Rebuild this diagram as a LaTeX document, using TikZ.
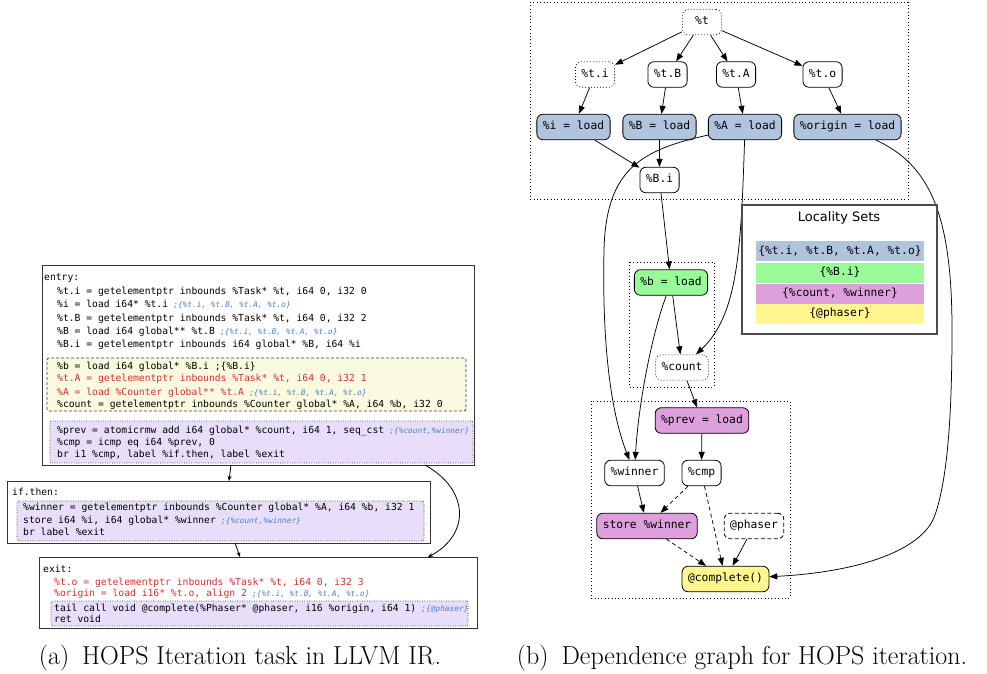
\documentclass[tikz,border=0pt]{standalone}
\usepackage{fontspec}
\newfontfamily\cmono{DejaVu Sans Mono}
\newfontfamily\cmonoit{DejaVu Sans Mono}[FakeSlant=0.2]
\newfontfamily\lsans{DejaVu Sans}
\usetikzlibrary{arrows.meta}
\definecolor{gblue}{RGB}{176,196,222}
\definecolor{ggreen}{RGB}{152,251,152}
\definecolor{gpink}{RGB}{221,160,221}
\definecolor{gyellow}{RGB}{255,246,143}
\definecolor{cyel}{RGB}{250,250,224}
\definecolor{cpurp}{RGB}{232,222,250}
\definecolor{cred}{RGB}{214,48,48}
\definecolor{cblue}{RGB}{74,128,196}
\newcommand\grfont{\cmono\fontsize{11.3}{13}\selectfont}
\newcommand\cdfont{\cmono\fontsize{9.7}{12}\selectfont}
\newcommand\cmfont{\cmonoit\fontsize{7.8}{9}\selectfont}
\newcommand\cmnt[1]{{\cmfont\color{cblue}\ #1}}
\newcommand\setone{\cmnt{;\{\%t.i, \%t.B, \%t.A, \%t.o\}}}
\newcommand\settwo{\cmnt{;\{\%count,\%winner\}}}
\tikzset{
  gnode/.style={draw, rounded corners=6pt, font=\grfont, minimum width=39pt,
    minimum height=25.5pt, inner xsep=6pt, inner ysep=0pt, text height=8.2pt,
    text depth=2.3pt, line width=0.8pt},
  dotnode/.style={gnode, dash pattern=on 0.8pt off 2.2pt},
  dashnode/.style={gnode, dash pattern=on 4pt off 2.5pt},
  arr/.style={-{Triangle[length=8pt,width=6pt]}, line width=0.75pt},
  darr/.style={arr, dash pattern=on 4pt off 3pt},
  cluster/.style={draw, line width=0.8pt, dash pattern=on 0.8pt off 2.6pt},
  code/.style={anchor=base west, inner sep=0pt, font=\cdfont},
  redcode/.style={code, text=cred},
  blockbox/.style={draw=black!80, line width=1pt, anchor=north west, inner sep=0pt, outer sep=0pt, fill=white},
  yelbox/.style={draw=black!75, line width=0.8pt, dash pattern=on 3pt off 2pt, rounded corners=2pt, fill=cyel, anchor=north west, inner sep=0pt, outer sep=0pt},
  purbox/.style={draw=black!75, line width=0.8pt, dash pattern=on 0.8pt off 1.6pt, rounded corners=2pt, fill=cpurp, anchor=north west, inner sep=0pt, outer sep=0pt},
  larr/.style={-{Stealth[length=5pt,width=4pt]}, line width=0.8pt},
  legrow/.style={minimum width=168pt, minimum height=20pt, inner sep=0pt, font=\grfont, text height=8.2pt, text depth=2.3pt},
  captext/.style={font=\fontsize{26}{30}\selectfont, inner sep=0pt, anchor=base}
}
\begin{document}
\begin{tikzpicture}[x=1pt,y=-1pt]
\useasboundingbox (0,0) rectangle (987,674);
% ---------- left: LLVM IR ----------
\node[blockbox, minimum width=432pt, minimum height=200pt] (entry) at (42,265) {};
\node[yelbox, minimum width=419pt, minimum height=53pt] (ybox) at (47,358) {};
\node[purbox, minimum width=423pt, minimum height=42pt] (pbox) at (50,421) {};
\node[code] (e0) at (44,280.5) {entry:};
\node[code] (e1) at (57,294) {\%t.i = getelementptr inbounds \%Task* \%t, i64 0, i32 0};
\node[code] (e2) at (57,307.5) {\%i = load i64* \%t.i\setone};
\node[code] (e3) at (57,321) {\%t.B = getelementptr inbounds \%Task* \%t, i64 0, i32 2};
\node[code] (e4) at (57,334.5) {\%B = load i64 global** \%t.B\setone};
\node[code] (e5) at (57,347) {\%B.i = getelementptr inbounds i64 global* \%B, i64 \%i};
\node[code] (y0) at (57,369.8) {\%b = load i64 global* \%B.i ;\{\%B.i\}};
\node[redcode] (y1) at (57,381.8) {\%t.A = getelementptr inbounds \%Task* \%t, i64 0, i32 1};
\node[redcode] (y2) at (57,395.2) {\%A = load \%Counter global** \%t.A\setone};
\node[code] (y3) at (57,407.5) {\%count = getelementptr inbounds \%Counter global* \%A, i64 \%b, i32 0};
\node[code] (p0) at (57,433.5) {\%prev = atomicrmw add i64 global* \%count, i64 1, seq\_cst\settwo};
\node[code] (p1) at (57,445.8) {\%cmp = icmp eq i64 \%prev, 0};
\node[code] (p2) at (57,457.8) {br i1 \%cmp, label \%if.then, label \%exit};

\node[blockbox, minimum width=423pt, minimum height=62pt] (ifthen) at (7,481) {};
\node[purbox, minimum width=407pt, minimum height=40pt] (pbox2) at (17,501) {};
\node[code] (f0) at (12,495.5) {if.then:};
\node[code] (f1) at (23,510.5) {\%winner = getelementptr inbounds \%Counter global* \%A, i64 \%b, i32 1};
\node[code] (f2) at (23,523.5) {store i64 \%i, i64 global* \%winner\settwo};
\node[code] (f3) at (23,535.5) {br label \%exit};

\node[blockbox, minimum width=438pt, minimum height=71pt] (exitb) at (39,557) {};
\node[purbox, minimum width=417pt, minimum height=25pt] (pbox3) at (51,601) {};
\node[code] (x0) at (43,572.5) {exit:};
\node[redcode] (x1) at (54,585.5) {\%t.o = getelementptr inbounds \%Task* \%t, i64 0, i32 3};
\node[redcode] (x2) at (54,596.8) {\%origin = load i16* \%t.o, align 2\setone};
\node[code] (x3) at (54,611.8) {tail call void @complete(\%Phaser* @phaser, i16 \%origin, i64 1)\cmnt{;\{@phaser\}}};
\node[code] (x4) at (54,622.8) {ret void};

\draw[larr] ([xshift=189pt]entry.south west) -- ([xshift=222pt]ifthen.north west);
\draw[larr] ([xshift=383pt]entry.south west) .. controls (470,490) and (470,535) .. ([xshift=389pt]exitb.north west);
\draw[larr] ([xshift=228pt]ifthen.south west) -- ([xshift=201pt]exitb.north west);

% ---------- right: dependence graph ----------
\draw[cluster] (530,2) rectangle (908,199);
\draw[cluster] (629,262) rectangle (714,387);
\draw[cluster] (591,401) rectangle (790,598);

\node[dotnode] (t) at (702,22) {\%t};
\node[dotnode] (ti) at (595,74.5) {\%t.i};
\node[gnode] (tB) at (667.5,74.5) {\%t.B};
\node[gnode] (tA) at (736,74.5) {\%t.A};
\node[gnode] (to) at (822.5,74.5) {\%t.o};
\node[gnode, fill=gblue] (iload) at (573.5,127) {\%i = load};
\node[gnode, fill=gblue] (Bload) at (659.5,127) {\%B = load};
\node[gnode, fill=gblue] (Aload) at (745,127) {\%A = load};
\node[gnode, fill=gblue] (origin) at (847.5,127) {\%origin = load};
\node[gnode] (Bi) at (659.5,180) {\%B.i};
\node[gnode, fill=ggreen] (bload) at (671,282.5) {\%b = load};
\node[dotnode] (count) at (682,367.5) {\%count};
\node[gnode, fill=gpink] (prev) at (702,420.5) {\%prev = load};
\node[gnode] (winner) at (634.5,473) {\%winner};
\node[gnode] (cmp) at (701.5,473) {\%cmp};
\node[gnode, fill=gpink] (store) at (647,526) {store \%winner};
\node[dashnode] (phaser) at (754,526) {@phaser};
\node[gnode, fill=gyellow] (complete) at (725.5,579) {@complete()};

\draw[arr] (t) -- (ti);
\draw[arr] (t) -- (tB);
\draw[arr] (t) -- (tA);
\draw[arr] (t) -- (to);
\draw[arr] (ti) -- (iload);
\draw[arr] (tB) -- (Bload);
\draw[arr] (tA) -- (Aload);
\draw[arr] (to) -- (origin);
\draw[arr] (iload) -- (Bi);
\draw[arr] (Bload) -- (Bi);
\draw[arr] (Aload) .. controls (640,150) and (606,170) .. (604,250) .. controls (602,340) and (610,410) .. (winner);
\draw[arr] (Aload) .. controls (741,250) and (738,315) .. (count);
\draw[arr] (Bi) -- (bload);
\draw[arr] (bload) -- (count);
\draw[arr] (bload) .. controls (650,340) and (638,410) .. (winner);
\draw[arr] (origin) .. controls (930,165) and (952,215) .. (952,330) .. controls (952,420) and (947,480) .. (935,515) .. controls (923,550) and (860,572) .. (complete);
\draw[arr] (count) -- (prev);
\draw[arr] (prev) -- (cmp);
\draw[arr] (winner) -- (store);
\draw[darr] (cmp) -- (store);
\draw[darr] (cmp) -- (complete);
\draw[darr] (store) -- (complete);
\draw[arr] (phaser) -- (complete);

% ---------- legend ----------
\node[draw=black!70, line width=1.2pt, minimum width=195pt, minimum height=129pt, anchor=north west, inner sep=0pt, outer sep=0pt] (legend) at (742,205) {};
\node[font=\lsans\fontsize{13}{15}\selectfont, inner sep=0pt] (ltitle) at (839,218) {Locality Sets};
\node[legrow, fill=gblue] (l1) at (840,251.3) {\{\%t.i, \%t.B, \%t.A, \%t.o\}};
\node[legrow, fill=ggreen] (l2) at (840,272.8) {\{\%B.i\}};
\node[legrow, fill=gpink] (l3) at (840,293.9) {\{\%count, \%winner\}};
\node[legrow, fill=gyellow] (l4) at (840,314) {\{@phaser\}};

% ---------- captions ----------
\node[captext] (capa) at (240,664) {(a)\enspace HOPS Iteration task in LLVM IR.};
\node[captext] (capb) at (742,664) {(b)\enspace Dependence graph for HOPS iteration.};
\end{tikzpicture}
\end{document}
